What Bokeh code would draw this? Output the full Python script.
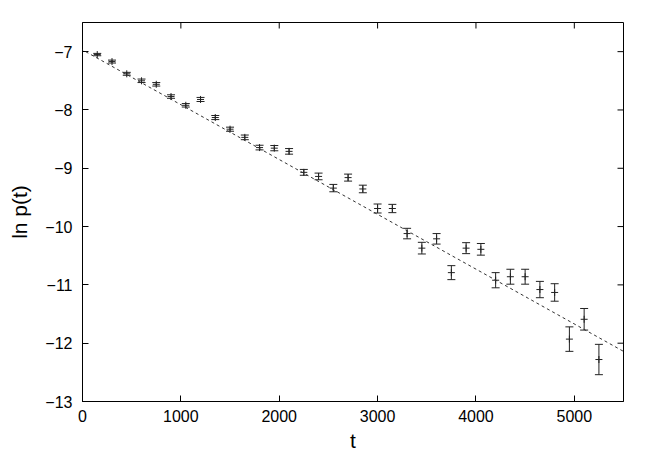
import math
from bokeh.plotting import figure
from bokeh.models import Range1d, Slope, FixedTicker, ColumnDataSource
from bokeh.embed import file_html
from bokeh.resources import INLINE

# data
t = [150, 300, 450, 600, 750, 900, 1050, 1200, 1350, 1500, 1650, 1800, 1950, 2100,
     2250, 2400, 2550, 2700, 2850, 3000, 3150, 3300, 3450, 3600, 3750, 3900, 4050,
     4200, 4350, 4500, 4650, 4800, 4950, 5100, 5250]
lnp = [-7.05, -7.17, -7.38, -7.50, -7.56, -7.77, -7.92, -7.82, -8.13, -8.33, -8.47,
       -8.645, -8.655, -8.71, -9.07, -9.14, -9.34, -9.16, -9.355, -9.69, -9.69,
       -10.12, -10.37, -10.21, -10.79, -10.37, -10.39, -10.92, -10.86, -10.86,
       -11.08, -11.13, -11.93, -11.59, -12.28]
err = [0.02, 0.025, 0.025, 0.03, 0.03, 0.03, 0.03, 0.035, 0.035, 0.035, 0.04, 0.04,
       0.045, 0.048, 0.05, 0.057, 0.063, 0.06, 0.065, 0.077, 0.071, 0.09, 0.10, 0.09,
       0.12, 0.094, 0.10, 0.13, 0.128, 0.128, 0.14, 0.15, 0.21, 0.185, 0.26]
fit_intercept = -6.97
fit_slope = -0.00094
x_ticks = [0, 1000, 2000, 3000, 4000, 5000]
y_ticks = [-13, -12, -11, -10, -9, -8, -7]
x_min, x_max = 0, 5500
y_min, y_max = -13, -6.5

lo = [v - e for v, e in zip(lnp, err)]
hi = [v + e for v, e in zip(lnp, err)]
src = ColumnDataSource(dict(t=t, y=lnp, lo=lo, hi=hi))

FONT = "Liberation Sans"
p = figure(width=650, height=454, output_backend="svg", toolbar_location=None,
           x_range=Range1d(x_min, x_max), y_range=Range1d(y_min, y_max),
           min_border_left=82, min_border_right=27, min_border_top=22,
           min_border_bottom=51, x_axis_label="t", y_axis_label="ln p(t)")
p.grid.visible = False
p.outline_line_color = "black"
p.outline_line_width = 1
p.background_fill_color = "white"
p.border_fill_color = "white"

p.xaxis.ticker = FixedTicker(ticks=x_ticks)
p.yaxis.ticker = FixedTicker(ticks=y_ticks)
for ax in (p.xaxis[0], p.yaxis[0]):
    ax.major_tick_in = 6
    ax.major_tick_out = 0
    ax.minor_tick_line_color = None
    ax.axis_line_color = "black"
    ax.major_tick_line_color = "black"
    ax.major_label_text_font = FONT
    ax.major_label_text_font_size = "16px"
    ax.major_label_text_color = "black"
    ax.axis_label_text_font = FONT
    ax.axis_label_text_font_size = "21px"
    ax.axis_label_text_font_style = "normal"
    ax.axis_label_text_color = "black"
p.xaxis.major_label_standoff = 8
p.xaxis.axis_label_standoff = 4
p.yaxis.major_label_standoff = 10
p.yaxis.axis_label_standoff = 11

# mirror ticks on top and right borders (inward, 6 px)
p.ray(x=x_ticks, y=[y_max] * len(x_ticks), length=6, length_units="screen",
      angle=-math.pi / 2, line_color="black", line_width=1)
p.ray(x=[x_max] * len(y_ticks), y=y_ticks, length=6, length_units="screen",
      angle=math.pi, line_color="black", line_width=1)

# fit line
p.add_layout(Slope(gradient=fit_slope, y_intercept=fit_intercept, line_color="#333333",
                   line_width=1, line_dash="3 3"))

# error bars
p.segment(x0="t", y0="lo", x1="t", y1="hi", source=src, line_color="#222222", line_width=1)
p.scatter(x="t", y="lo", source=src, marker="dash", size=8, line_color="#222222", line_width=1)
p.scatter(x="t", y="hi", source=src, marker="dash", size=8, line_color="#222222", line_width=1)
p.scatter(x="t", y="y", source=src, marker="cross", size=7, line_color="#222222", line_width=1)

open("out.html", "w").write(file_html(p, INLINE))
